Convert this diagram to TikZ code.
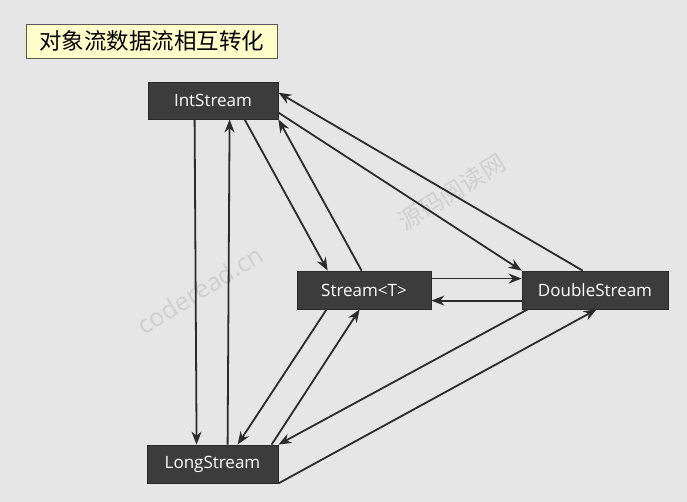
\documentclass[tikz,border=0pt]{standalone}
\usepackage{fontspec}
\setmainfont{Open Sans}
\newfontfamily\cjk{Noto Sans CJK SC}
\usetikzlibrary{arrows.meta}
\definecolor{bgc}{HTML}{E6E6E6}
\definecolor{boxc}{HTML}{3C3C3C}
\definecolor{boxd}{HTML}{2A2A2A}
\definecolor{linec}{HTML}{2B2B2B}
\definecolor{titlec}{HTML}{FFFFCC}
\definecolor{wmc}{HTML}{D0D0D0}
\tikzset{
  sbox/.style={draw=boxd, line width=0.8pt, fill=boxc, text=white, inner sep=0pt,
    font=\fontsize{17pt}{19pt}\selectfont},
  conn/.style={draw=linec, line width=1.8pt, -{Stealth[length=13pt,width=10pt]}},
  wm/.style={text=wmc, rotate=32}
}
\begin{document}
\begin{tikzpicture}[x=1pt,y=-1pt]
\path[fill=bgc] (0,0) rectangle (687,502);
\node[wm, font=\fontsize{24pt}{26pt}\selectfont\cjk] (wm1) at (452,192) {源码阅读网};
\node[wm, font=\fontsize{25pt}{27pt}\selectfont] (wm2) at (200,290) {coderead.cn};
\node[draw=black!65, line width=0.8pt, fill=titlec, inner sep=0pt,
  minimum width=251pt, minimum height=34pt,
  font=\fontsize{22.5pt}{24pt}\selectfont\cjk] (title) at (151.5,41) {对象流数据流相互转化};
\node[sbox, minimum width=130pt, minimum height=37pt] (int) at (213,100.5) {IntStream};
\node[sbox, minimum width=134pt, minimum height=38pt] (stream) at (364,290) {Stream<T>};
\node[sbox, minimum width=146pt, minimum height=38pt] (double) at (595,290) {DoubleStream};
\node[sbox, minimum width=131pt, minimum height=38pt] (long) at (212.5,464) {LongStream};
\draw[conn] ([xshift=47pt]int.south west) -- ([xshift=50pt]long.north west);
\draw[conn] ([xshift=81pt]long.north west) -- ([xshift=82pt]int.south west);
\draw[conn] ([xshift=97pt]int.south west) -- ([xshift=31pt]stream.north west);
\draw[conn] ([xshift=65pt]stream.north west) -- (int.south east);
\draw[conn] ([yshift=-31pt]int.north east) -- (double.north west);
\draw[conn] ([xshift=61pt]double.north west) -- ([yshift=-11pt]int.north east);
\draw[conn] ([yshift=-8pt]stream.north east) -- ([yshift=-8pt]double.north west);
\draw[conn] ([yshift=-30pt]double.north west) -- ([yshift=-30pt]stream.north east);
\draw[conn] ([xshift=30pt]stream.south west) -- ([xshift=91pt]long.north west);
\draw[conn] ([xshift=125pt]long.north west) -- ([xshift=63pt]stream.south west);
\draw[conn] ([xshift=6pt]double.south west) -- (long.north east);
\draw[conn] (long.south east) -- ([xshift=75pt]double.south west);
\end{tikzpicture}
\end{document}
